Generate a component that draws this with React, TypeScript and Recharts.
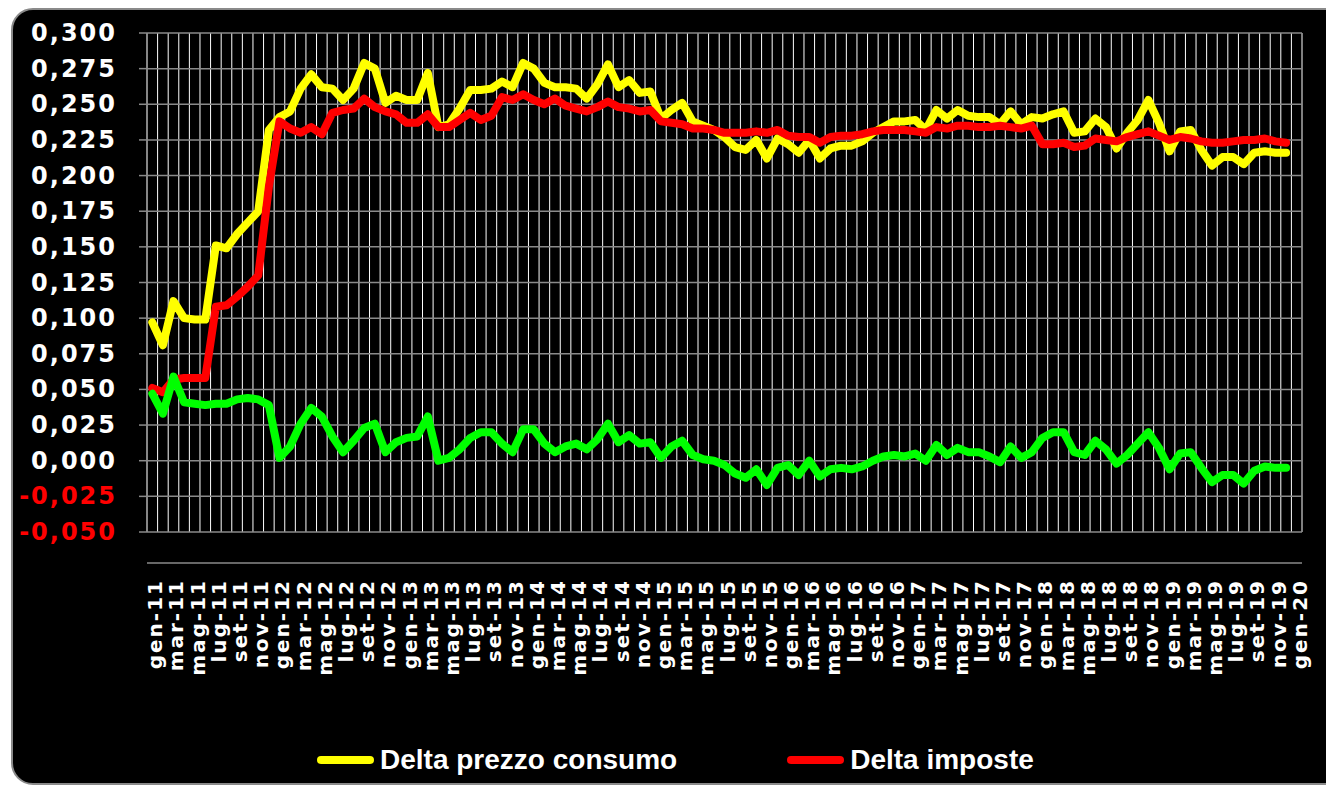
import React from 'react';
import { LineChart, Line, XAxis, YAxis, CartesianGrid, Legend } from 'recharts';

const MESI = ['gen', 'feb', 'mar', 'apr', 'mag', 'giu', 'lug', 'ago', 'set', 'ott', 'nov', 'dic'];
const ANNI = ['11', '12', '13', '14', '15', '16', '17', '18', '19'];

// categorie mensili gen-11 ... gen-20 (l'ultima senza dati)
const CATEGORIE: string[] = [];
ANNI.forEach((a) => MESI.forEach((m) => CATEGORIE.push(`${m}-${a}`)));
CATEGORIE.push('gen-20');

const PREZZO_CONSUMO = [
  0.097, 0.081, 0.112, 0.100, 0.099, 0.099, 0.151, 0.149, 0.159, 0.167, 0.175, 0.232,
  0.241, 0.245, 0.261, 0.271, 0.262, 0.261, 0.253, 0.261, 0.279, 0.275, 0.251, 0.256,
  0.253, 0.253, 0.272, 0.234, 0.236, 0.247, 0.260, 0.260, 0.261, 0.266, 0.262, 0.279,
  0.275, 0.265, 0.262, 0.262, 0.261, 0.254, 0.264, 0.278, 0.262, 0.267, 0.258, 0.259,
  0.240, 0.246, 0.251, 0.238, 0.235, 0.232, 0.227, 0.220, 0.218, 0.225, 0.212, 0.226,
  0.222, 0.216, 0.225, 0.212, 0.219, 0.221, 0.221, 0.224, 0.230, 0.234, 0.238, 0.238,
  0.239, 0.232, 0.246, 0.240, 0.246, 0.242, 0.241, 0.241, 0.236, 0.245, 0.236, 0.241,
  0.240, 0.243, 0.245, 0.230, 0.231, 0.240, 0.234, 0.219, 0.230, 0.239, 0.253, 0.237,
  0.217, 0.231, 0.232, 0.218, 0.207, 0.213, 0.213, 0.208, 0.216, 0.217, 0.216, 0.216,
];

const IMPOSTE = [
  0.051, 0.048, 0.057, 0.058, 0.058, 0.058, 0.108, 0.109, 0.115, 0.122, 0.130, 0.192,
  0.238, 0.233, 0.230, 0.234, 0.229, 0.244, 0.246, 0.247, 0.254, 0.248, 0.245, 0.243,
  0.237, 0.237, 0.243, 0.234, 0.234, 0.239, 0.244, 0.239, 0.242, 0.255, 0.253, 0.257,
  0.253, 0.250, 0.254, 0.249, 0.247, 0.245, 0.248, 0.252, 0.248, 0.247, 0.245, 0.246,
  0.238, 0.237, 0.236, 0.233, 0.233, 0.232, 0.230, 0.230, 0.230, 0.231, 0.230, 0.232,
  0.228, 0.227, 0.227, 0.223, 0.227, 0.228, 0.228, 0.229, 0.231, 0.232, 0.232, 0.232,
  0.231, 0.230, 0.234, 0.233, 0.235, 0.235, 0.234, 0.234, 0.235, 0.234, 0.233, 0.235,
  0.222, 0.222, 0.223, 0.220, 0.221, 0.226, 0.225, 0.224, 0.227, 0.229, 0.231, 0.228,
  0.225, 0.227, 0.226, 0.224, 0.223, 0.223, 0.224, 0.225, 0.225, 0.226, 0.224, 0.223,
];

const DELTA_NETTO = [
  0.047, 0.033, 0.059, 0.041, 0.040, 0.039, 0.040, 0.040, 0.043, 0.044, 0.043, 0.039,
  0.002, 0.010, 0.026, 0.037, 0.031, 0.017, 0.006, 0.014, 0.023, 0.026, 0.006, 0.013,
  0.016, 0.017, 0.031, 0.000, 0.002, 0.008, 0.016, 0.020, 0.020, 0.012, 0.006, 0.022,
  0.022, 0.012, 0.006, 0.010, 0.012, 0.008, 0.015, 0.026, 0.013, 0.018, 0.012, 0.013,
  0.002, 0.010, 0.014, 0.004, 0.001, 0.000, -0.003, -0.009, -0.012, -0.006, -0.017, -0.005,
  -0.003, -0.010, 0.000, -0.011, -0.006, -0.005, -0.006, -0.004, 0.000, 0.003, 0.004, 0.003,
  0.005, 0.000, 0.011, 0.004, 0.009, 0.006, 0.006, 0.003, -0.001, 0.010, 0.002, 0.006,
  0.016, 0.020, 0.020, 0.006, 0.004, 0.014, 0.008, -0.002, 0.004, 0.012, 0.020, 0.009,
  -0.006, 0.005, 0.006, -0.005, -0.015, -0.010, -0.010, -0.016, -0.007, -0.004, -0.005, -0.005,
];

const Y_TICKS = [-0.05, -0.025, 0, 0.025, 0.05, 0.075, 0.1, 0.125, 0.15, 0.175, 0.2, 0.225, 0.25, 0.275, 0.3];

// ordine delle voci in legenda
const LEGEND_ORDER = ['prezzo', 'imposte'];

const N_CAT = CATEGORIE.length;
const LABEL_TICKS = CATEGORIE.map((_, i) => i).filter((i) => i % 2 === 0).map((i) => i + 0.5);
const MARK_TICKS = CATEGORIE.map((_, i) => i).filter((i) => i % 2 === 0);
const GRID_TICKS = CATEGORIE.map((_, i) => i).filter((i) => i > 0);

const data = PREZZO_CONSUMO.map((v, i) => ({
  x: i + 0.5,
  mese: CATEGORIE[i],
  prezzo: v,
  imposte: IMPOSTE[i],
  netto: DELTA_NETTO[i],
}));

const fmt = (v: number) => v.toFixed(3).replace('.', ',');

const YTick = (props: any) => {
  const { x, y, payload } = props;
  const v = payload.value as number;
  return (
    <text x={x} y={y} textAnchor="end" dominantBaseline="central" fill={v < 0 ? '#ff0000' : '#ffffff'}
      fontFamily="DejaVu Sans" fontWeight="bold" fontSize={24} letterSpacing={2}>
      {fmt(v)}
    </text>
  );
};

const XTick = (props: any) => {
  const { x, y, payload } = props;
  const label = CATEGORIE[Math.floor(payload.value)];
  const bx = x + 10;
  return (
    <text x={bx} y={y} transform={`rotate(-90 ${bx} ${y})`} textAnchor="end" fill="#ffffff"
      fontFamily="DejaVu Sans" fontWeight="bold" fontSize={20} letterSpacing={2}>
      {label}
    </text>
  );
};

const renderLegend = (props: any) => {
  const items = (props.payload || [])
    .filter((p: any) => p.type !== 'none')
    .sort((a: any, b: any) => LEGEND_ORDER.indexOf(a.dataKey) - LEGEND_ORDER.indexOf(b.dataKey));
  return (
    <div style={{ height: 40, display: 'flex', alignItems: 'center', paddingLeft: 317, gap: 110 }}>
      {items.map((p: any) => (
        <div key={p.value} style={{ display: 'flex', alignItems: 'center' }}>
          <svg width={57} height={12}>
            <line x1={4} y1={6} x2={53} y2={6} stroke={p.color} strokeWidth={8} strokeLinecap="round" />
          </svg>
          <span style={{ marginLeft: 6, color: '#fff', fontFamily: 'Liberation Sans', fontWeight: 'bold', fontSize: 28, lineHeight: '40px' }}>
            {p.value}
          </span>
        </div>
      ))}
    </div>
  );
};

export default function App() {
  return (
    <div style={{ position: 'absolute', left: 0, top: 0, width: 1326, height: 786, overflow: 'hidden', background: '#fff' }}>
      <div style={{
        position: 'absolute', left: 11, top: 8, width: 1340, height: 777, boxSizing: 'border-box',
        border: '2px solid #8a8a8a', borderRadius: 22, background: '#000',
      }} />
      <div style={{ position: 'absolute', left: 0, top: 0 }}>
        <LineChart width={1326} height={786} data={data} margin={{ top: 33, right: 24, bottom: 212, left: 0 }}>
          <XAxis xAxisId="g" type="number" dataKey="x" domain={[0, N_CAT]} ticks={GRID_TICKS} interval={0} hide allowDataOverflow />
          <XAxis xAxisId="tm" type="number" dataKey="x" domain={[0, N_CAT]} ticks={MARK_TICKS} interval={0} height={1}
            tick={false} tickSize={8} tickLine={{ stroke: '#8a8a8a', strokeWidth: 1.5 }}
            axisLine={{ stroke: '#8a8a8a', strokeWidth: 1.5 }} allowDataOverflow />
          <XAxis xAxisId="lab" type="number" dataKey="x" domain={[0, N_CAT]} ticks={LABEL_TICKS} interval={0} height={1}
            tickLine={false} axisLine={false} tickSize={0} tickMargin={17} tick={<XTick />} allowDataOverflow />
          <YAxis type="number" domain={[-0.05, 0.3]} ticks={Y_TICKS} interval={0} width={147} tickSize={8} tickMargin={22}
            tick={<YTick />} tickLine={{ stroke: '#8a8a8a', strokeWidth: 1.5 }} axisLine={{ stroke: '#8a8a8a', strokeWidth: 1.5 }}
            allowDataOverflow />
          <CartesianGrid xAxisId="g" horizontal={false} stroke="#ffffff" strokeWidth={1} />
          <CartesianGrid xAxisId="g" vertical={false} stroke="#8a8a8a" strokeWidth={1.5} />
          <Legend verticalAlign="bottom" content={renderLegend}
            wrapperStyle={{ top: 740, bottom: 'auto', left: 0, width: 1326 }} />
          <Line xAxisId="lab" dataKey="prezzo" name="Delta prezzo  consumo" stroke="#ffff00" strokeWidth={8}
            strokeLinejoin="round" strokeLinecap="round" dot={false} activeDot={false} isAnimationActive={false} />
          <Line xAxisId="lab" dataKey="imposte" name="Delta imposte" stroke="#ff0000" strokeWidth={8}
            strokeLinejoin="round" strokeLinecap="round" dot={false} activeDot={false} isAnimationActive={false} />
          <Line xAxisId="lab" dataKey="netto" name="Delta netto" legendType="none" stroke="#00ff00" strokeWidth={8}
            strokeLinejoin="round" strokeLinecap="round" dot={false} activeDot={false} isAnimationActive={false} />
        </LineChart>
      </div>
    </div>
  );
}
